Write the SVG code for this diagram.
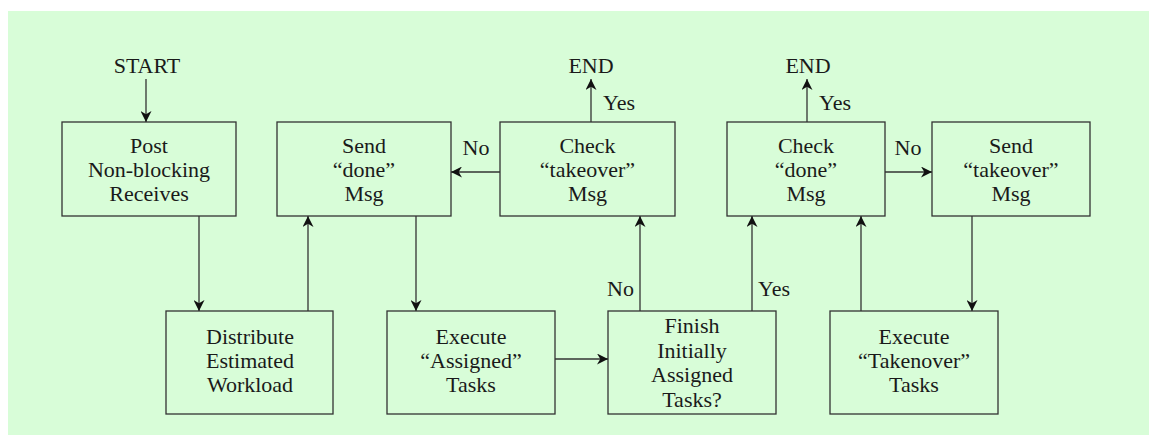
<svg xmlns="http://www.w3.org/2000/svg" width="1149" height="435" viewBox="0 0 1149 435">
<style>
text{font-family:'Liberation Serif','Times New Roman',serif;font-size:22px;fill:#1a1a1a;text-anchor:middle}
.box{fill:none;stroke:#333;stroke-width:1.3}
.ln{fill:none;stroke:#333;stroke-width:1.3;marker-end:url(#ah)}
.st{text-anchor:start}
</style>
<defs>
<marker id="ah" viewBox="0 0 10 10" refX="10" refY="5" markerWidth="11" markerHeight="11" markerUnits="userSpaceOnUse" orient="auto">
<path d="M0,0 L10,5 L0,10 L3,5 z" fill="#111"/>
</marker>
</defs>
<rect x="0" y="0" width="1149" height="435" fill="#fff"/>
<rect x="8" y="11" width="1141" height="424" fill="#d8fdd8"/>

<g id="start"><text x="147" y="73">START</text></g>
<g id="end1"><text x="591" y="73">END</text></g>
<g id="end2"><text x="808" y="73">END</text></g>

<g id="post"><rect class="box" x="62" y="122" width="174" height="94"/>
<text x="149" y="153">Post</text><text x="149" y="177">Non-blocking</text><text x="149" y="201">Receives</text></g>
<g id="senddone"><rect class="box" x="277" y="122" width="174" height="94"/>
<text x="364" y="153">Send</text><text x="364" y="177">“done”</text><text x="364" y="201">Msg</text></g>
<g id="checktakeover"><rect class="box" x="500" y="122" width="175" height="94"/>
<text x="587.5" y="153">Check</text><text x="587.5" y="177">“takeover”</text><text x="587.5" y="201">Msg</text></g>
<g id="checkdone"><rect class="box" x="727" y="122" width="158" height="94"/>
<text x="806" y="153">Check</text><text x="806" y="177">“done”</text><text x="806" y="201">Msg</text></g>
<g id="sendtakeover"><rect class="box" x="932" y="122" width="158" height="94"/>
<text x="1011" y="153">Send</text><text x="1011" y="177">“takeover”</text><text x="1011" y="201">Msg</text></g>

<g id="distribute"><rect class="box" x="166" y="311" width="167" height="103"/>
<text x="250" y="344">Distribute</text><text x="250" y="368">Estimated</text><text x="250" y="392">Workload</text></g>
<g id="execassigned"><rect class="box" x="387" y="311" width="168" height="103"/>
<text x="471" y="344">Execute</text><text x="471" y="368">“Assigned”</text><text x="471" y="392">Tasks</text></g>
<g id="finish"><rect class="box" x="608" y="311" width="168" height="103"/>
<text x="692" y="333">Finish</text><text x="692" y="357.5">Initially</text><text x="692" y="382">Assigned</text><text x="692" y="406.5">Tasks?</text></g>
<g id="exectakenover"><rect class="box" x="830" y="311" width="168" height="103"/>
<text x="914" y="344">Execute</text><text x="914" y="368">“Takenover”</text><text x="914" y="392">Tasks</text></g>

<g id="connectors">
<line class="ln" x1="146" y1="79" x2="146" y2="122"/>
<line class="ln" x1="199" y1="216" x2="199" y2="311"/>
<line class="ln" x1="308" y1="311" x2="308" y2="216"/>
<line class="ln" x1="416" y1="216" x2="416" y2="311"/>
<line class="ln" x1="555" y1="359" x2="608" y2="359"/>
<line class="ln" x1="640" y1="311" x2="640" y2="216"/>
<line class="ln" x1="752" y1="311" x2="752" y2="216"/>
<line class="ln" x1="500" y1="172" x2="451" y2="172"/>
<line class="ln" x1="591" y1="122" x2="591" y2="79"/>
<line class="ln" x1="807" y1="122" x2="807" y2="79"/>
<line class="ln" x1="885" y1="172" x2="932" y2="172"/>
<line class="ln" x1="972" y1="216" x2="972" y2="311"/>
<line class="ln" x1="861" y1="311" x2="861" y2="216"/>
<text x="476" y="155">No</text>
<text class="st" x="603" y="110">Yes</text>
<text class="st" x="819" y="110">Yes</text>
<text x="908" y="155">No</text>
<text x="620.5" y="296">No</text>
<text class="st" x="758" y="296">Yes</text>
</g>
</svg>
